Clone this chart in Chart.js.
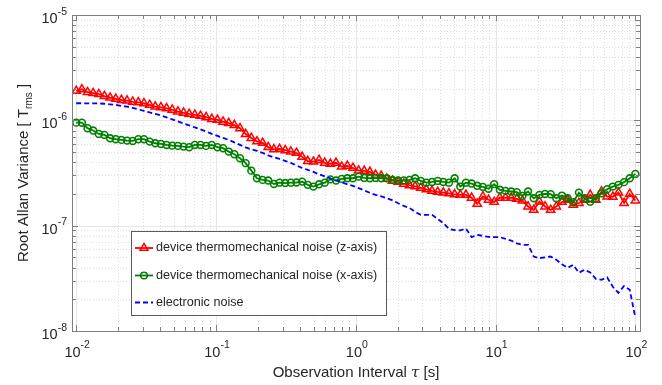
<!DOCTYPE html>
<html>
<head>
<meta charset="utf-8">
<script src="https://cdn.jsdelivr.net/npm/chart.js@4.4.0/dist/chart.umd.min.js"></script>
<style>
  body { margin: 0; background: #fff; }
  canvas { display: block; }
</style>
</head>
<body>
<canvas id="allan" width="662" height="385"></canvas>
<script>
// observation interval tau [s]
const tau = [
  0.01, 0.01098, 0.01205, 0.01322, 0.01451, 0.01592, 0.01748, 0.01918, 0.02105, 0.0231,
  0.02535, 0.02783, 0.03054, 0.03352, 0.03678, 0.04037, 0.04431, 0.04863, 0.05337, 0.05857,
  0.06428, 0.07055, 0.07743, 0.08498, 0.09326, 0.1024, 0.1123, 0.1233, 0.1353, 0.1485,
  0.163, 0.1789, 0.1963, 0.2154, 0.2364, 0.2595, 0.2848, 0.3126, 0.343, 0.3765,
  0.4132, 0.4535, 0.4977, 0.5462, 0.5995, 0.6579, 0.7221, 0.7925, 0.8697, 0.9545,
  1.048, 1.15, 1.262, 1.385, 1.52, 1.668, 1.831, 2.009, 2.205, 2.42,
  2.656, 2.915, 3.199, 3.511, 3.854, 4.229, 4.642, 5.094, 5.591, 6.136,
  6.734, 7.391, 8.111, 8.902, 9.77, 10.72, 11.77, 12.92, 14.18, 15.56,
  17.07, 18.74, 20.57, 22.57, 24.77, 27.19, 29.84, 32.75, 35.94, 39.44,
  43.29, 47.51, 52.14, 57.22, 62.8, 68.93, 75.65, 83.02, 91.12, 100
];

// root Allan variance [T_rms]
const noiseZ = [
  1.90e-6, 1.97e-6, 1.85e-6, 1.81e-6, 1.77e-6, 1.70e-6, 1.64e-6, 1.60e-6, 1.56e-6, 1.54e-6,
  1.50e-6, 1.48e-6, 1.45e-6, 1.40e-6, 1.35e-6, 1.33e-6, 1.30e-6, 1.26e-6, 1.21e-6, 1.18e-6,
  1.15e-6, 1.125e-6, 1.10e-6, 1.07e-6, 1.03e-6, 1.01e-6, 0.97e-6, 0.94e-6, 0.90e-6, 0.84e-6,
  0.74e-6, 0.68e-6, 0.63e-6, 0.61e-6, 0.556e-6, 0.53e-6, 0.535e-6, 0.52e-6, 0.505e-6, 0.49e-6,
  0.45e-6, 0.41e-6, 0.405e-6, 0.42e-6, 0.395e-6, 0.386e-6, 0.395e-6, 0.363e-6, 0.37e-6, 0.353e-6,
  0.333e-6, 0.331e-6, 0.324e-6, 0.304e-6, 0.297e-6, 0.278e-6, 0.267e-6, 0.26e-6, 0.25e-6, 0.242e-6,
  0.236e-6, 0.229e-6, 0.221e-6, 0.214e-6, 0.209e-6, 0.206e-6, 0.2025e-6, 0.198e-6, 0.196e-6, 0.196e-6,
  0.184e-6, 0.161e-6, 0.189e-6, 0.176e-6, 0.168e-6, 0.184e-6, 0.184e-6, 0.184e-6, 0.18e-6, 0.173e-6,
  0.152e-6, 0.141e-6, 0.169e-6, 0.152e-6, 0.141e-6, 0.152e-6, 0.168e-6, 0.176e-6, 0.158e-6, 0.164e-6,
  0.176e-6, 0.196e-6, 0.176e-6, 0.211e-6, 0.189e-6, 0.188e-6, 0.206e-6, 0.164e-6, 0.2e-6, 0.173e-6
];
const noiseX = [
  0.951e-6, 0.95e-6, 0.842e-6, 0.80e-6, 0.743e-6, 0.727e-6, 0.676e-6, 0.662e-6, 0.652e-6, 0.642e-6,
  0.637e-6, 0.662e-6, 0.662e-6, 0.628e-6, 0.606e-6, 0.597e-6, 0.584e-6, 0.575e-6, 0.572e-6, 0.563e-6,
  0.556e-6, 0.584e-6, 0.584e-6, 0.572e-6, 0.584e-6, 0.556e-6, 0.544e-6, 0.505e-6, 0.477e-6, 0.437e-6,
  0.392e-6, 0.333e-6, 0.282e-6, 0.272e-6, 0.268e-6, 0.249e-6, 0.256e-6, 0.254e-6, 0.256e-6, 0.257e-6,
  0.262e-6, 0.244e-6, 0.235e-6, 0.247e-6, 0.256e-6, 0.275e-6, 0.268e-6, 0.278e-6, 0.282e-6, 0.282e-6,
  0.292e-6, 0.284e-6, 0.282e-6, 0.284e-6, 0.282e-6, 0.282e-6, 0.272e-6, 0.268e-6, 0.269e-6, 0.272e-6,
  0.282e-6, 0.266e-6, 0.256e-6, 0.26e-6, 0.266e-6, 0.26e-6, 0.256e-6, 0.282e-6, 0.235e-6, 0.256e-6,
  0.251e-6, 0.239e-6, 0.233e-6, 0.224e-6, 0.248e-6, 0.219e-6, 0.214e-6, 0.211e-6, 0.208e-6, 0.192e-6,
  0.211e-6, 0.182e-6, 0.196e-6, 0.2e-6, 0.199e-6, 0.182e-6, 0.193e-6, 0.182e-6, 0.167e-6, 0.206e-6,
  0.182e-6, 0.169e-6, 0.182e-6, 0.203e-6, 0.222e-6, 0.235e-6, 0.244e-6, 0.259e-6, 0.282e-6, 0.31e-6
];
const noiseElec = [
  1.453e-6, 1.453e-6, 1.45e-6, 1.45e-6, 1.447e-6, 1.437e-6, 1.42e-6, 1.40e-6, 1.37e-6, 1.349e-6,
  1.31e-6, 1.27e-6, 1.228e-6, 1.188e-6, 1.15e-6, 1.113e-6, 1.065e-6, 1.02e-6, 0.976e-6, 0.934e-6,
  0.895e-6, 0.856e-6, 0.82e-6, 0.785e-6, 0.743e-6, 0.711e-6, 0.681e-6, 0.652e-6, 0.617e-6, 0.584e-6,
  0.553e-6, 0.53e-6, 0.513e-6, 0.491e-6, 0.465e-6, 0.445e-6, 0.43e-6, 0.412e-6, 0.394e-6, 0.373e-6,
  0.353e-6, 0.338e-6, 0.324e-6, 0.307e-6, 0.294e-6, 0.281e-6, 0.269e-6, 0.258e-6, 0.247e-6, 0.239e-6,
  0.227e-6, 0.216e-6, 0.205e-6, 0.196e-6, 0.19e-6, 0.182e-6, 0.174e-6, 0.163e-6, 0.154e-6, 0.1476e-6,
  0.135e-6, 0.1266e-6, 0.1266e-6, 0.1266e-6, 0.116e-6, 0.1057e-6, 0.0933e-6, 0.0906e-6, 0.0902e-6, 0.0939e-6,
  0.0778e-6, 0.0818e-6, 0.080e-6, 0.0782e-6, 0.0778e-6, 0.0778e-6, 0.075e-6, 0.0722e-6, 0.0679e-6, 0.0658e-6,
  0.0658e-6, 0.0509e-6, 0.0492e-6, 0.050e-6, 0.0509e-6, 0.0474e-6, 0.043e-6, 0.0398e-6, 0.0425e-6, 0.0357e-6,
  0.0381e-6, 0.036e-6, 0.0313e-6, 0.0306e-6, 0.0323e-6, 0.0263e-6, 0.023e-6, 0.0268e-6, 0.0246e-6, 0.0133e-6
];

const seriesNames = [
  'device thermomechanical noise (z-axis)',
  'device thermomechanical noise (x-axis)',
  'electronic noise'
];
const xDecades = [-2, -1, 0, 1, 2];
const yDecades = [-8, -7, -6, -5];

const FONT = '"Liberation Sans", Arial, sans-serif';
const TEXT = '#262626';
const AXIS = '#7f7f7f';
const RED = '#ff0000', GREEN = '#008000', BLUE = '#0000ff';

function points(vals) {
  return tau.map((t, i) => ({ x: t, y: vals[i] }));
}

// "10" with a raised exponent, baseline = baseline of the "10"
function drawPow(ctx, exp, x, base, align) {
  const big = '14.5px ' + FONT, small = '10.5px ' + FONT;
  const e = String(exp);
  ctx.font = big;
  const w1 = ctx.measureText('10').width;
  ctx.font = small;
  const w2 = ctx.measureText(e).width;
  const x0 = align === 'right' ? x - w1 - w2 : x - (w1 + w2) / 2;
  ctx.textAlign = 'left';
  ctx.textBaseline = 'alphabetic';
  ctx.fillStyle = TEXT;
  ctx.font = big;
  ctx.fillText('10', x0, base);
  ctx.font = small;
  ctx.fillText(e, x0 + w1, base - 8.5);
}

// all decade and in-between tick values that lie in the scale range
function tickValues(scale, decades) {
  const out = [];
  for (let d = decades[0] - 1; d <= decades[decades.length - 1]; d++) {
    for (let m = 1; m <= 9; m++) {
      const v = m * Math.pow(10, d);
      if (v >= scale.min * 0.999 && v <= scale.max * 1.001) out.push({ v, major: m === 1 });
    }
  }
  return out;
}

function marker(ctx, style, x, y, color) {
  ctx.save();
  ctx.strokeStyle = color;
  ctx.lineWidth = 1.5;
  ctx.setLineDash([]);
  ctx.beginPath();
  if (style === 'triangle') {
    const r = 4.6;
    ctx.moveTo(x, y - r);
    ctx.lineTo(x + r * 0.866, y + r * 0.5);
    ctx.lineTo(x - r * 0.866, y + r * 0.5);
    ctx.closePath();
  } else {
    ctx.arc(x, y, 3.3, 0, Math.PI * 2);
  }
  ctx.stroke();
  ctx.restore();
}

const matlabAxes = {
  id: 'matlabAxes',
  beforeDatasetsDraw(chart) {
    const { ctx, chartArea: a, scales: { x, y } } = chart;
    const xt = tickValues(x, xDecades), yt = tickValues(y, yDecades);
    ctx.save();
    ctx.lineWidth = 1;
    // minor grid, dotted
    ctx.setLineDash([1, 2]);
    ctx.strokeStyle = '#dedede';
    ctx.beginPath();
    xt.filter(t => !t.major).forEach(t => {
      const p = Math.round(x.getPixelForValue(t.v)) + 0.5;
      ctx.moveTo(p, a.top); ctx.lineTo(p, a.bottom);
    });
    yt.filter(t => !t.major).forEach(t => {
      const p = Math.round(y.getPixelForValue(t.v)) + 0.5;
      ctx.moveTo(a.left, p); ctx.lineTo(a.right, p);
    });
    ctx.stroke();
    // major grid
    ctx.setLineDash([]);
    ctx.strokeStyle = '#e6e6e6';
    ctx.beginPath();
    xt.filter(t => t.major).forEach(t => {
      const p = Math.round(x.getPixelForValue(t.v)) + 0.5;
      ctx.moveTo(p, a.top); ctx.lineTo(p, a.bottom);
    });
    yt.filter(t => t.major).forEach(t => {
      const p = Math.round(y.getPixelForValue(t.v)) + 0.5;
      ctx.moveTo(a.left, p); ctx.lineTo(a.right, p);
    });
    ctx.stroke();
    ctx.restore();
  },
  afterDatasetsDraw(chart) {
    const { ctx, chartArea: a, scales: { x, y } } = chart;
    const xt = tickValues(x, xDecades), yt = tickValues(y, yDecades);
    ctx.save();

    // box
    ctx.strokeStyle = AXIS;
    ctx.lineWidth = 1;
    ctx.strokeRect(Math.round(a.left) + 0.5, Math.round(a.top) + 0.5,
      Math.round(a.right - a.left), Math.round(a.bottom - a.top));

    // ticks pointing inward on all four sides
    ctx.beginPath();
    xt.forEach(t => {
      const p = Math.round(x.getPixelForValue(t.v)) + 0.5;
      const len = t.major ? 6 : 4;
      ctx.moveTo(p, a.bottom); ctx.lineTo(p, a.bottom - len);
      ctx.moveTo(p, a.top); ctx.lineTo(p, a.top + len);
    });
    yt.forEach(t => {
      const p = Math.round(y.getPixelForValue(t.v)) + 0.5;
      const len = t.major ? 6 : 4;
      ctx.moveTo(a.left, p); ctx.lineTo(a.left + len, p);
      ctx.moveTo(a.right, p); ctx.lineTo(a.right - len, p);
    });
    ctx.stroke();

    // tick labels
    xDecades.forEach(d => drawPow(ctx, d, x.getPixelForValue(Math.pow(10, d)) + 1, a.bottom + 25.5, 'center'));
    yDecades.forEach(d => drawPow(ctx, d, 67, y.getPixelForValue(Math.pow(10, d)) + 8, 'right'));

    // x title
    ctx.fillStyle = TEXT;
    ctx.textBaseline = 'alphabetic';
    ctx.textAlign = 'left';
    const f = '15px ' + FONT, fi = 'italic 15px "DejaVu Serif", serif';
    const parts = [['Observation Interval ', f], ['\u03c4', fi], [' [s]', f]];
    let tw = 0;
    parts.forEach(p => { ctx.font = p[1]; tw += ctx.measureText(p[0]).width; });
    let cx = (a.left + a.right) / 2 - tw / 2;
    parts.forEach(p => { ctx.font = p[1]; ctx.fillText(p[0], cx, 377); cx += ctx.measureText(p[0]).width; });

    // y title, rotated, with subscript
    ctx.save();
    ctx.translate(28, (a.top + a.bottom) / 2);
    ctx.rotate(-Math.PI / 2);
    const yp = [['Root Allan Variance [ T', f, 0], ['rms', '10px ' + FONT, 3.5], [' ]', f, 0]];
    tw = 0;
    yp.forEach(p => { ctx.font = p[1]; tw += ctx.measureText(p[0]).width; });
    cx = -tw / 2;
    yp.forEach(p => { ctx.font = p[1]; ctx.fillText(p[0], cx, p[2]); cx += ctx.measureText(p[0]).width; });
    ctx.restore();

    // legend box
    const lx = 131, ly = 231, lw = 255, lh = 84;
    ctx.fillStyle = '#ffffff';
    ctx.fillRect(lx, ly, lw, lh);
    ctx.strokeStyle = '#595959';
    ctx.strokeRect(lx + 0.5, ly + 0.5, lw, lh);
    const rows = [248, 275.5, 302.5];
    chart.data.datasets.forEach((ds, i) => {
      const ry = rows[i];
      ctx.save();
      ctx.strokeStyle = ds.borderColor;
      ctx.lineWidth = ds.borderWidth;
      ctx.setLineDash(ds.borderDash || []);
      ctx.beginPath();
      ctx.moveTo(135, ry); ctx.lineTo(153, ry);
      ctx.stroke();
      ctx.restore();
      if (ds.pointRadius > 0) marker(ctx, ds.pointStyle, 144, ry, ds.borderColor);
      ctx.fillStyle = TEXT;
      ctx.font = '12.6px ' + FONT;
      ctx.textBaseline = 'middle';
      ctx.fillText(ds.label, 156, ry);
    });
    ctx.restore();
  }
};

new Chart(document.getElementById('allan'), {
  type: 'line',
  data: {
    datasets: [
      {
        label: seriesNames[0],
        data: points(noiseZ),
        borderColor: RED,
        borderWidth: 1.8,
        pointStyle: 'triangle',
        pointRadius: 4.8,
        pointBorderWidth: 1.5,
        pointBackgroundColor: 'rgba(255,255,255,0)',
        pointBorderColor: RED,
        order: 2
      },
      {
        label: seriesNames[1],
        data: points(noiseX),
        borderColor: GREEN,
        borderWidth: 1.8,
        pointStyle: 'circle',
        pointRadius: 3.4,
        pointBorderWidth: 1.6,
        pointBackgroundColor: 'rgba(255,255,255,0)',
        pointBorderColor: GREEN,
        order: 1
      },
      {
        label: seriesNames[2],
        data: points(noiseElec),
        borderColor: BLUE,
        borderWidth: 1.8,
        borderDash: [5, 3],
        pointRadius: 0,
        order: 0
      }
    ]
  },
  options: {
    responsive: false,
    animation: false,
    devicePixelRatio: 1,
    layout: { padding: { left: 0, top: 15, right: 22, bottom: 0 } },
    scales: {
      x: {
        type: 'logarithmic',
        min: 0.00933,
        max: 107.9,
        ticks: { display: false },
        grid: { display: false },
        border: { display: false },
        afterFit(s) { s.height = 54; }
      },
      y: {
        type: 'logarithmic',
        min: 1e-8,
        max: 1e-5,
        ticks: { display: false },
        grid: { display: false },
        border: { display: false },
        afterFit(s) { s.width = 72; }
      }
    },
    plugins: {
      legend: { display: false },
      tooltip: { enabled: false }
    }
  },
  plugins: [matlabAxes]
});
</script>
</body>
</html>
